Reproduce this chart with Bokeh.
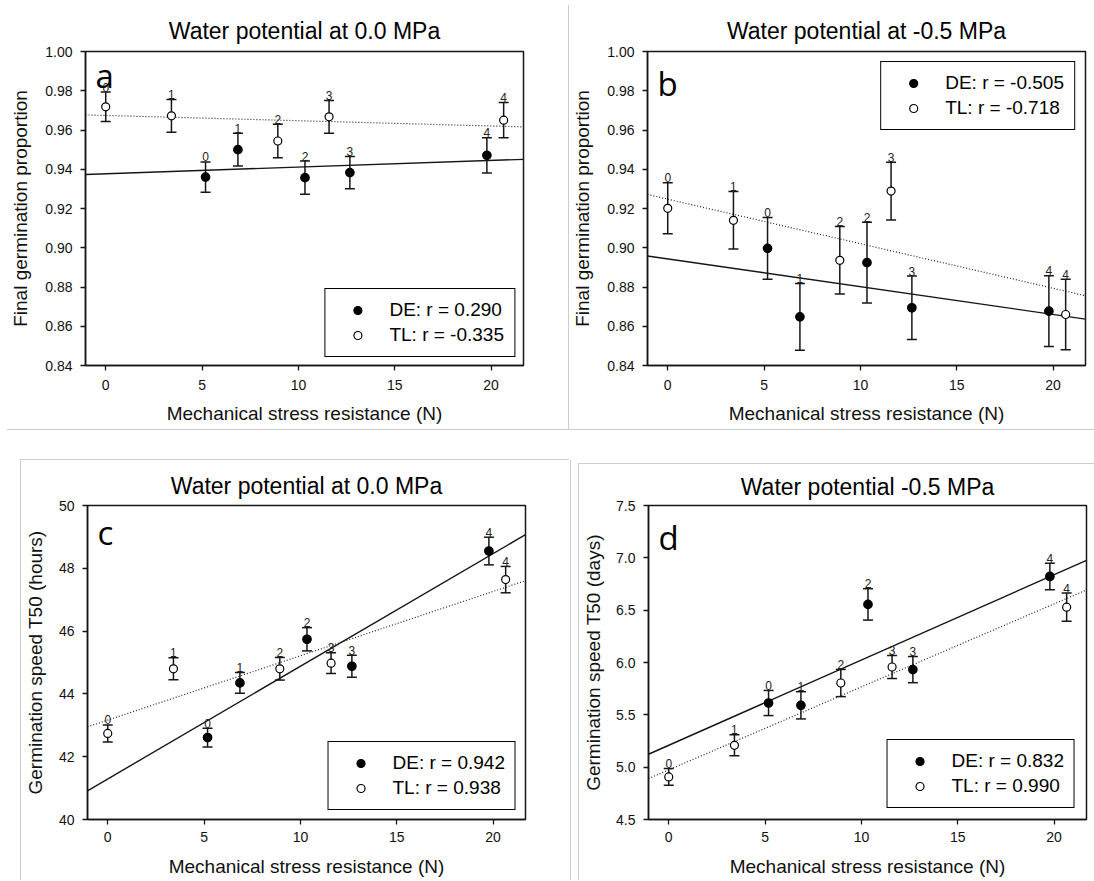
import numpy as np
from bokeh.plotting import figure
from bokeh.models import (Range1d, FixedTicker, ColumnDataSource, Whisker, TeeHead,
                          Legend, LegendItem, Label, Spacer)
from bokeh.layouts import row, column
from bokeh.core.properties import value
from bokeh.embed import file_html
from bokeh.resources import INLINE

# ---------------- data ----------------
stress_de = [5.18, 6.86, 10.34, 12.67, 19.78]
stress_tl = [0.0, 3.41, 8.93, 11.59, 20.65]
labels_de = ["0", "1", "2", "3", "4"]
labels_tl = ["0", "1", "2", "3", "4"]

a_de = [0.936, 0.950, 0.9357, 0.9383, 0.9471]
a_de_err = [0.0077, 0.0083, 0.0085, 0.0082, 0.0090]
a_tl = [0.9718, 0.9672, 0.9544, 0.9667, 0.9650]
a_tl_err = [0.0075, 0.0083, 0.0085, 0.0083, 0.0090]

b_de = [0.8997, 0.8648, 0.8924, 0.8694, 0.8677]
b_de_err = [0.0157, 0.0170, 0.0206, 0.0162, 0.0180]
b_tl = [0.9201, 0.9140, 0.8936, 0.9289, 0.8660]
b_tl_err = [0.0130, 0.0146, 0.0172, 0.0147, 0.0180]

c_de = [42.61, 44.35, 45.74, 44.88, 48.55]
c_de_err = [0.30, 0.33, 0.37, 0.35, 0.44]
c_tl = [42.74, 44.80, 44.80, 44.98, 47.64]
c_tl_err = [0.27, 0.35, 0.36, 0.33, 0.42]

d_de = [5.613, 5.591, 6.555, 5.932, 6.822]
d_de_err = [0.120, 0.130, 0.150, 0.125, 0.127]
d_tl = [4.907, 5.209, 5.804, 5.957, 6.529]
d_tl_err = [0.080, 0.100, 0.130, 0.110, 0.135]

legend_de = ["DE: r = 0.290", "DE: r = -0.505", "DE: r = 0.942", "DE: r = 0.832"]
legend_tl = ["TL: r = -0.335", "TL: r = -0.718", "TL: r = 0.938", "TL: r = 0.990"]

titles = ["Water potential at 0.0 MPa", "Water potential at -0.5 MPa",
          "Water potential at 0.0 MPa", "Water potential -0.5 MPa"]
ylabels = ["Final germination proportion", "Final germination proportion",
           "Germination speed T50 (hours)", "Germination speed T50 (days)"]
xlabel = "Mechanical stress resistance (N)"
letters = ["a", "b", "c", "d"]

x_ticks = [0, 5, 10, 15, 20]
x_tick_labels = ["0", "5", "10", "15", "20"]
ab_y_ticks = [0.84, 0.86, 0.88, 0.90, 0.92, 0.94, 0.96, 0.98, 1.00]
ab_y_labels = ["0.84", "0.86", "0.88", "0.90", "0.92", "0.94", "0.96", "0.98", "1.00"]
c_y_ticks = [40, 42, 44, 46, 48, 50]
c_y_labels = ["40", "42", "44", "46", "48", "50"]
d_y_ticks = [4.5, 5.0, 5.5, 6.0, 6.5, 7.0, 7.5]
d_y_labels = ["4.5", "5.0", "5.5", "6.0", "6.5", "7.0", "7.5"]

X_START, X_END = -1.05, 21.68

FONT = "Liberation Sans"
INK = "#161616"
SEP = "#cdcdcd"


def make_panel(i, de, de_err, tl, tl_err, y_start, y_end, y_ticks, y_labels,
               borders, title_standoff, letter_dy, legend_loc, legend_margin,
               xtick_standoff, xlab_standoff, ylab_standoff):
    bl, br, bt, bb = borders
    p = figure(frame_width=438, frame_height=314,
               x_range=Range1d(X_START, X_END), y_range=Range1d(y_start, y_end),
               output_backend="svg", toolbar_location=None,
               min_border_left=bl, min_border_right=br,
               min_border_top=bt, min_border_bottom=bb,
               title=titles[i])
    p.title.align = "center"
    p.title.text_font = FONT
    p.title.text_font_size = "23px"
    p.title.text_font_style = "normal"
    p.title.text_color = "black"
    p.title.standoff = title_standoff
    p.grid.visible = False
    p.outline_line_color = INK
    p.outline_line_width = 1.5
    p.outline_line_alpha = 1.0
    p.background_fill_color = "white"
    p.border_fill_color = "white"

    p.xaxis.ticker = FixedTicker(ticks=x_ticks)
    p.xaxis.major_label_overrides = dict(zip(x_ticks, x_tick_labels))
    p.yaxis.ticker = FixedTicker(ticks=y_ticks)
    p.yaxis.major_label_overrides = dict(zip(y_ticks, y_labels))
    p.xaxis.axis_label = xlabel
    p.yaxis.axis_label = ylabels[i]
    for ax in p.axis:
        ax.major_tick_in = 0
        ax.major_tick_out = 5
        ax.minor_tick_line_color = None
        ax.axis_line_color = INK
        ax.axis_line_width = 1.5
        ax.major_tick_line_color = INK
        ax.major_tick_line_width = 1.3
        ax.major_label_text_font = FONT
        ax.major_label_text_font_size = "14px"
        ax.major_label_text_color = "#111111"
        ax.axis_label_text_font = FONT
        ax.axis_label_text_font_size = "19px"
        ax.axis_label_text_font_style = "normal"
        ax.axis_label_text_color = "#111111"
    p.xaxis.major_label_standoff = xtick_standoff
    p.xaxis.axis_label_standoff = xlab_standoff
    p.yaxis.major_label_standoff = 8
    p.yaxis.axis_label_standoff = ylab_standoff

    # regression lines computed from the plotted means
    xs = np.array([X_START, X_END])
    cde = np.polyfit(stress_de, de, 1)
    ctl = np.polyfit(stress_tl, tl, 1)
    p.line(xs, np.polyval(cde, xs), line_color=INK, line_width=1.4)
    p.line(xs, np.polyval(ctl, xs), line_color="#222222", line_width=1.2,
           line_dash="1 2")

    renderers = []
    for xs_, ys_, es_, labs, fill, size in (
            (stress_de, de, de_err, labels_de, "black", 8.5),
            (stress_tl, tl, tl_err, labels_tl, "white", 8.0)):
        ys_a = np.array(ys_)
        es_a = np.array(es_)
        src = ColumnDataSource(dict(x=xs_, y=ys_, upper=ys_a + es_a,
                                    lower=ys_a - es_a, lab=labs))
        w = Whisker(source=src, base="x", upper="upper", lower="lower",
                    dimension="height", line_color=INK, line_width=1.5,
                    upper_head=TeeHead(size=10, line_color=INK, line_width=1.5),
                    lower_head=TeeHead(size=10, line_color=INK, line_width=1.5))
        p.add_layout(w)
        p.text(x="x", y="upper", text="lab", source=src, text_align="center",
               text_baseline="alphabetic", y_offset=-5, text_font=value(FONT),
               text_font_size="12px", text_color="#222222")
        r = p.scatter(x="x", y="y", source=src, marker="circle", size=size,
                      fill_color=fill, line_color="black", line_width=1.2)
        renderers.append(r)

    legend = Legend(items=[LegendItem(label=legend_de[i], renderers=[renderers[0]]),
                           LegendItem(label=legend_tl[i], renderers=[renderers[1]])],
                    location=legend_loc, margin=legend_margin,
                    border_line_color="black", border_line_width=1.3,
                    border_line_alpha=1.0,
                    background_fill_color="white", background_fill_alpha=1.0,
                    label_text_font=FONT, label_text_font_size="19px",
                    label_text_color="black",
                    glyph_width=44, glyph_height=20, label_height=20,
                    label_standoff=10, padding=10, spacing=3)
    p.add_layout(legend)

    p.add_layout(Label(x=X_START, y=y_end, x_offset=10, y_offset=-letter_dy,
                       text=letters[i], text_baseline="alphabetic",
                       text_font="Open Sans",
                       text_font_size="33px", text_color="black"))
    return p


# borders: (left, right, top, bottom) in px around the 438x314 frame
pa = make_panel(0, a_de, a_de_err, a_tl, a_tl_err, 0.84, 1.00, ab_y_ticks, ab_y_labels,
                (85, 45, 51, 64), 16, 24, "bottom_right", 8, 9, 10, 11)
pb = make_panel(1, b_de, b_de_err, b_tl, b_tl_err, 0.84, 1.00, ab_y_ticks, ab_y_labels,
                (76, 11, 51, 64), 16, 32, "top_right", 10, 9, 10, 11)
pc = make_panel(2, c_de, c_de_err, c_tl, c_tl_err, 40, 50, c_y_ticks, c_y_labels,
                (64, 45, 45, 61), 13, 27, "bottom_right", 9, 7, 11, 10)
pd = make_panel(3, d_de, d_de_err, d_tl, d_tl_err, 4.5, 7.5, d_y_ticks, d_y_labels,
                (69, 10, 41, 61), 11, 32, "bottom_right", 11, 7, 11, 9)


def bar(w, h):
    return Spacer(width=w, height=h, margin=0, styles={"background-color": SEP})


def gap(w, h):
    return Spacer(width=w, height=h, margin=0)


top_row = row(pa, column(gap(1, 5), bar(1, 424), spacing=0), pb, spacing=0)
hsep = row(gap(7, 1), bar(1087, 1), spacing=0)
left_box = column(bar(549, 1), row(bar(1, 420), pc, bar(1, 420), spacing=0), spacing=0)
left_col = column(gap(569, 29), row(gap(20, 421), left_box, spacing=0), spacing=0)
right_box = column(bar(518, 1), row(bar(1, 416), pd, spacing=0), spacing=0)
right_col = column(gap(518, 33), right_box, spacing=0)
bottom_row = row(left_col, gap(7, 450), right_col, spacing=0)

layout = column(top_row, hsep, bottom_row, spacing=0)

open("out.html", "w").write(file_html(layout, INLINE))
